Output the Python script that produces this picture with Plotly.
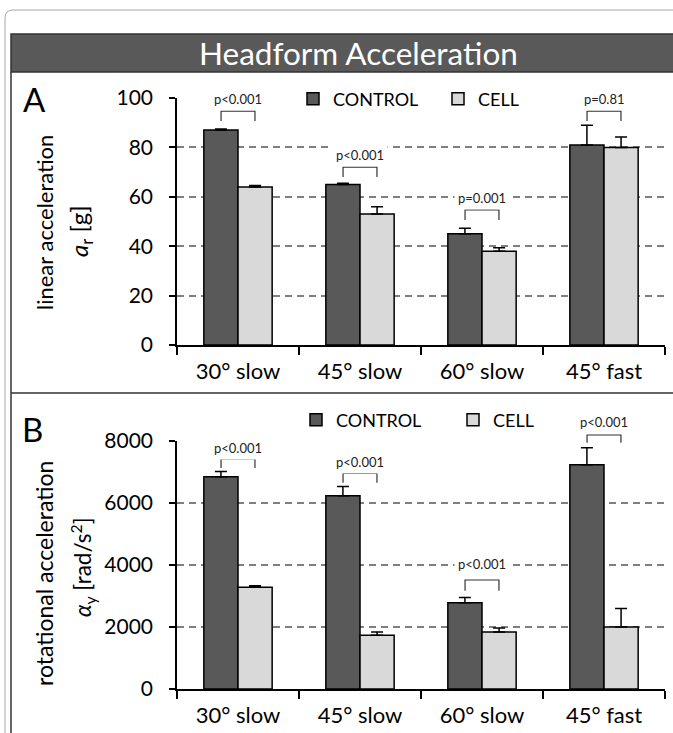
import plotly.graph_objects as go

# ---------------- data ----------------
categories = ["30° slow", "45° slow", "60° slow", "45° fast"]

lin_control = [87, 65, 45, 81]
lin_control_err = [0.5, 0.5, 2.3, 8]
lin_cell = [64, 53, 38, 80]
lin_cell_err = [0.6, 3, 1.4, 4.2]
lin_p = ["p<0.001", "p<0.001", "p=0.001", "p=0.81"]

rot_control = [6850, 6230, 2780, 7230]
rot_control_err = [170, 300, 170, 550]
rot_cell = [3280, 1730, 1840, 2000]
rot_cell_err = [50, 110, 130, 600]
rot_p = ["p<0.001", "p<0.001", "p<0.001", "p<0.001"]

lin_ticks = [0, 20, 40, 60, 80, 100]
rot_ticks = [0, 2000, 4000, 6000, 8000]

# ---------------- layout constants ----------------
W, H = 673, 733
FONT = "Lato"
C_CONTROL = "#595959"
C_CELL = "#d9d9d9"


def px_x(px):
    return px / W


def px_y(py):
    return 1 - py / H


XDOM = [px_x(177), px_x(665)]
YDOM_A = [px_y(345), px_y(98)]
YDOM_B = [px_y(689), px_y(441)]

fig = go.Figure()


def add_pair(ctrl, ctrl_err, cell, cell_err, xa, ya, legend):
    fig.add_trace(go.Bar(
        x=categories, y=ctrl, name="CONTROL", xaxis=xa, yaxis=ya, legend=legend,
        marker=dict(color=C_CONTROL, line=dict(color="black", width=1.5)),
        error_y=dict(type="data", symmetric=False, array=ctrl_err,
                     arrayminus=[0] * len(ctrl), color="black", thickness=1.5, width=6),
    ))
    fig.add_trace(go.Bar(
        x=categories, y=cell, name="CELL", xaxis=xa, yaxis=ya, legend=legend,
        marker=dict(color=C_CELL, line=dict(color="black", width=1.5)),
        error_y=dict(type="data", symmetric=False, array=cell_err,
                     arrayminus=[0] * len(cell), color="black", thickness=1.5, width=6),
    ))


add_pair(lin_control, lin_control_err, lin_cell, lin_cell_err, "x", "y", "legend")
add_pair(rot_control, rot_control_err, rot_cell, rot_cell_err, "x2", "y2", "legend2")

axis_common = dict(
    showline=True, linecolor="black", linewidth=1.5,
    ticks="outside", tickcolor="black", tickwidth=1.5, automargin=False,
)
xaxis_common = dict(axis_common, domain=XDOM, tickson="boundaries", ticklen=8,
                    ticklabelstandoff=6, showgrid=False, fixedrange=True,
                    tickfont=dict(family=FONT, size=22, color="black"))
yaxis_common = dict(axis_common, ticklen=6, ticklabelstandoff=12, showgrid=True,
                    gridcolor="#7f7f7f", gridwidth=1.5, griddash="7px,5px",
                    zeroline=False, fixedrange=True,
                    tickfont=dict(family=FONT, size=21, color="black"))

fig.update_layout(
    template="none",
    width=W, height=H,
    margin=dict(l=0, r=0, t=0, b=0, autoexpand=False),
    paper_bgcolor="white", plot_bgcolor="rgba(0,0,0,0)",
    barmode="group", bargap=0.44, bargroupgap=0,
    font=dict(family=FONT, color="black"),
    xaxis=dict(xaxis_common, anchor="y"),
    xaxis2=dict(xaxis_common, anchor="y2"),
    yaxis=dict(yaxis_common, domain=YDOM_A, anchor="x", range=[0, 100],
               tickvals=lin_ticks),
    yaxis2=dict(yaxis_common, domain=YDOM_B, anchor="x2", range=[0, 8000],
                tickvals=rot_ticks),
    legend=dict(orientation="h", x=px_x(293), xanchor="left", y=px_y(99),
                yanchor="middle", bgcolor="white", font=dict(size=18),
                entrywidth=100, traceorder="normal", itemclick=False),
    legend2=dict(orientation="h", x=px_x(296), xanchor="left", y=px_y(420),
                 yanchor="middle", bgcolor="rgba(0,0,0,0)", font=dict(size=18),
                 entrywidth=112, traceorder="normal", itemclick=False),
)

shapes = []
annotations = []


def label(text, x, y, size, color="black", angle=0, **kw):
    annotations.append(dict(text=text, xref="paper", yref="paper", x=x, y=y,
                            xanchor="center", yanchor="middle", textangle=angle,
                            showarrow=False, font=dict(size=size, color=color, family=FONT),
                            **kw))


# outer card border (rounded)
shapes.append(dict(type="path", xref="paper", yref="paper",
                   path=f"M {px_x(5)} {px_y(740)} L {px_x(5)} {px_y(18)} "
                        f"Q {px_x(5)} {px_y(10)} {px_x(13)} {px_y(10)} L {px_x(680)} {px_y(10)}",
                   line=dict(color="#a6a6a6", width=1)))
# title band
shapes.append(dict(type="rect", xref="paper", yref="paper",
                   x0=px_x(11), x1=px_x(680), y0=px_y(72), y1=px_y(34),
                   fillcolor="#595959", line=dict(color="#333333", width=1.5), layer="below"))
# inner left border and divider
shapes.append(dict(type="line", xref="paper", yref="paper",
                   x0=px_x(11), x1=px_x(11), y0=px_y(72), y1=px_y(740),
                   line=dict(color="#333333", width=1.5)))
shapes.append(dict(type="line", xref="paper", yref="paper",
                   x0=px_x(11), x1=px_x(680), y0=px_y(393), y1=px_y(393),
                   line=dict(color="#333333", width=1.5)))

label("Headform Acceleration", px_x(358), px_y(53), 31.5, color="white")
label("A", px_x(34), px_y(99), 33)
label("B", px_x(32), px_y(429), 33)

# y-axis titles
label("linear acceleration", px_x(45), px_y(223), 22, angle=-90)
label("<i>a</i><sub>r</sub> [g]", px_x(80), px_y(231), 24, angle=-90)
label("rotational acceleration", px_x(44), px_y(574), 23, angle=-90)
label("<i>α</i><sub>y</sub> [rad/s<sup>2</sup>]", px_x(82), px_y(567), 22.5, angle=-90)

# significance brackets
OFF = 0.139  # half distance between the two bars' centres, in category units


def xcat(i, d):
    return XDOM[0] + (i + 0.5 + d) / len(categories) * (XDOM[1] - XDOM[0])


def yval(v, dom, vmax):
    return dom[0] + v / vmax * (dom[1] - dom[0])


lin_brackets = [(99.6, 94.7, 90.7), (77, 72, 68), (59.5, 54.7, 50.6), (99.6, 94.7, 90.7)]
rot_brackets = [(7774, 7419, 7129), (7330, 6957, 6655), (4032, 3516, 3171), (8623, 8194, 7945)]

for p_list, br, dom, vmax in [(lin_p, lin_brackets, YDOM_A, 100),
                              (rot_p, rot_brackets, YDOM_B, 8000)]:
    for i, (txt, (ty, by, ly)) in enumerate(zip(p_list, br)):
        xl, xr = xcat(i, -OFF), xcat(i, OFF)
        ybar, yleg = yval(by, dom, vmax), yval(ly, dom, vmax)
        shapes.append(dict(type="path", xref="paper", yref="paper",
                           path=f"M {xl} {yleg} L {xl} {ybar} L {xr} {ybar} L {xr} {yleg}",
                           line=dict(color="#333333", width=1.2)))
        label(txt, xcat(i, 0), yval(ty, dom, vmax), 13, color="#222222",
              bgcolor="white", borderpad=3)

fig.update_layout(shapes=shapes, annotations=annotations)
fig.write_html("out.html", config={"displayModeBar": False},
               post_script="document.body.style.margin='0';")
